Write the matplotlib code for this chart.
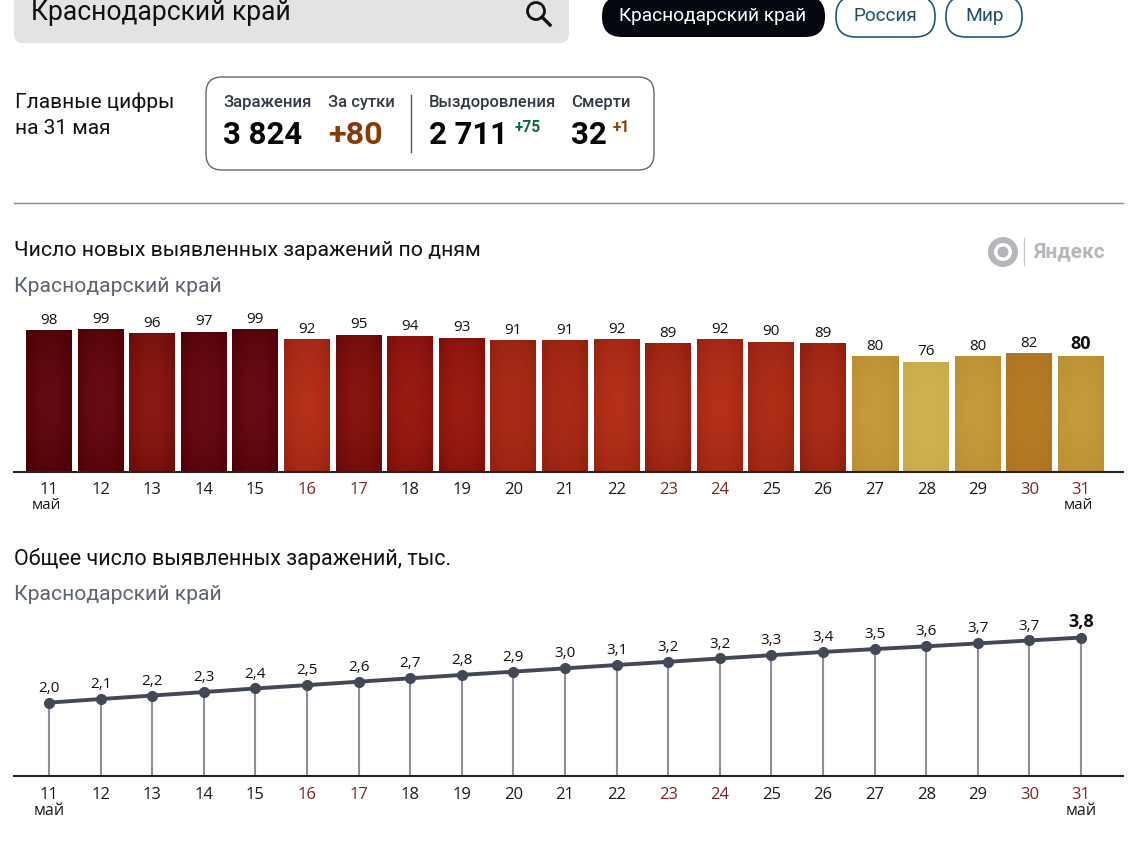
#!/usr/bin/env python3
# Сводка по Краснодарскому краю: карточка с цифрами и два графика.
import matplotlib
matplotlib.use("Agg")
import matplotlib.pyplot as plt
from matplotlib.colors import to_rgb
from matplotlib.patches import Circle, FancyBboxPatch
import numpy as np

W, H = 1140, 843
plt.rcParams["font.family"] = ["Open Sans", "DejaVu Sans"]

days = [11, 12, 13, 14, 15, 16, 17, 18, 19, 20, 21, 22, 23, 24, 25, 26, 27, 28, 29, 30, 31]
new_cases = [98, 99, 96, 97, 99, 92, 95, 94, 93, 91, 91, 92, 89, 92, 90, 89, 80, 76, 80, 82, 80]
total_cases = [2.027, 2.126, 2.222, 2.319, 2.418, 2.510, 2.605, 2.699, 2.792, 2.883, 2.974,
               3.066, 3.155, 3.247, 3.337, 3.426, 3.506, 3.582, 3.662, 3.744, 3.824]
weekend_days = [16, 17, 23, 24, 30, 31]

# цвет центра и края столбца для каждого значения
bar_colors = {
    99: ("#680b13", "#4c0005"), 98: ("#620a11", "#470004"), 97: ("#680b13", "#500007"),
    96: ("#8a1a12", "#690b09"), 95: ("#86150f", "#660908"), 94: ("#9a1b12", "#7c0e0a"),
    93: ("#9c1c12", "#7e0e0a"), 92: ("#b4311a", "#9a2211"), 91: ("#aa2b16", "#922010"),
    90: ("#ae2e17", "#962210"), 89: ("#ac2e18", "#8e1e0e"), 82: ("#b67c26", "#ad7522"),
    80: ("#c49a3a", "#b98f32"), 76: ("#d0b252", "#c8aa4a"),
}

fig = plt.figure(figsize=(W / 100, H / 100), dpi=100)
page = fig.add_axes([0, 0, 1, 1])
page.set_xlim(0, W); page.set_ylim(H, 0); page.axis("off")


def px_axes(left, top, right, bottom, pad):
    ax = fig.add_axes([left / W, 1 - bottom / H, (right - left) / W, (bottom - top) / H])
    ax.patch.set_alpha(0)
    for s in ["top", "left", "right"]:
        ax.spines[s].set_visible(False)
    ax.spines["bottom"].set_color("#222222")
    ax.spines["bottom"].set_linewidth(1.5)
    ax.set_yticks([])
    ax.set_xticks(range(len(days)))
    ax.set_xticklabels(days)
    ax.tick_params(axis="x", length=0, labelsize=12, pad=pad)
    for lab, d in zip(ax.get_xticklabels(), days):
        lab.set_color("#7a2626" if d in weekend_days else "#1a1a1a")
    return ax


def rounded(x0, y0, x1, y1, r, **kw):
    page.add_patch(FancyBboxPatch((x0 + r, y0 + r), x1 - x0 - 2 * r, y1 - y0 - 2 * r,
                                  boxstyle=f"round,pad={r},rounding_size={r}", **kw))


def label(x, y, s, size, color="#111111", family=None, weight="normal", ha="left"):
    page.text(x, y, s, fontsize=size, color=color, family=family, weight=weight,
              ha=ha, va="center")


HEAD = ["Roboto", "DejaVu Sans"]

# --- шапка: поиск и переключатели ---
rounded(14, -20, 569, 43, 9, fc="#e3e3e3", ec="none")
label(31, 13, "Краснодарский край", 19.1, family=HEAD)
page.add_patch(Circle((536, 11), 8.5, fc="none", ec="#111111", lw=2))
page.plot([542, 550], [17, 25], color="#111111", lw=2.4)
rounded(602, -4, 825, 37, 20, fc="#05070f", ec="none")
label(713, 16, "Краснодарский край", 13.8, color="white", family=HEAD, ha="center")
rounded(836, -4, 935, 37, 20, fc="white", ec="#1c5a7a", lw=1.2)
label(885.5, 16, "Россия", 13.6, color="#1c4f6e", family=HEAD, ha="center")
rounded(946, -4, 1022, 37, 20, fc="white", ec="#1c5a7a", lw=1.2)
label(984.5, 16, "Мир", 13.8, color="#1c4f6e", family=HEAD, ha="center")

# --- главные цифры ---
label(15, 102, "Главные цифры", 15, family=HEAD)
label(15, 129, "на 31 мая", 15, family=HEAD)
rounded(206, 77, 654, 170, 16, fc="white", ec="#666666", lw=1)
page.plot([411, 411], [95, 152], color="#555555", lw=1)
for x, s in [(223, "Заражения"), (328, "За сутки"), (429, "Выздоровления"), (571, "Смерти")]:
    label(x, 102, s, 12, color="#333947", family=HEAD, weight="medium")
label(223, 135, "3 824", 22.4, family=HEAD, weight="bold", color="#050505")
label(328, 135, "+80", 23.2, family=HEAD, weight="bold", color="#8a3a08")
label(429, 135, "2 711", 22.4, family=HEAD, weight="bold", color="#050505")
label(571, 135, "32", 22.4, family=HEAD, weight="bold", color="#050505")
label(515, 127, "+75", 11.2, family=HEAD, weight="bold", color="#0f6b3c")
label(613, 127, "+1", 11.2, family=HEAD, weight="bold", color="#8a3a08")
page.plot([14, 1123], [203, 203], color="#8c8c8c", lw=1)

# --- логотип ---
page.add_patch(Circle((1003, 252), 15, fc="#b4b6bb", ec="none"))
page.add_patch(Circle((1003, 252), 9, fc="white", ec="none"))
page.add_patch(Circle((1003, 252), 5.5, fc="#b4b6bb", ec="none"))
page.plot([1024, 1024], [238, 265], color="#c4c6ca", lw=1)
label(1033, 252, "Яндекс", 15, color="#b4b6bb", family=HEAD, weight="bold")

# --- новые заражения ---
label(14, 251, "Число новых выявленных заражений по дням", 15.35, family=HEAD)
label(14, 286, "Краснодарский край", 15.2, color="#5c6472", family=HEAD)
x = np.arange(len(days))
xlim = ((14 - 49) / 51.6, 20 + (1123 - 1081) / 51.6)

ax1 = px_axes(14, 300, 1123, 471.5, 7.2)
bars = ax1.bar(x, new_cases, width=46 / 51.6, fc="none", ec="#00000000", zorder=3)
v, u = np.mgrid[-1:1:80j, -1:1:40j]
r = (np.sqrt(u ** 2 + v ** 2) / np.sqrt(2))[..., None] ** 1.8
for b, val in zip(bars, new_cases):
    c0, c1 = [np.array(to_rgb(c)) for c in bar_colors[val]]
    ax1.imshow(c0 + (c1 - c0) * r, aspect="auto", zorder=2,
               extent=[b.get_x(), b.get_x() + b.get_width(), 0, b.get_height()])
for i, val in enumerate(new_cases):
    last = i == len(days) - 1
    ax1.annotate(str(val), (i, val), textcoords="offset points", xytext=(0, 2.6 if last else 2.4),
                 ha="center", va="bottom", color="#111111",
                 fontsize=13 if last else 11, weight="bold" if last else "normal")
ax1.set_xlim(xlim); ax1.set_ylim(0, 171.5 / 1.43)
ax1.text(-0.04, -0.197, "май", transform=ax1.get_xaxis_transform(), ha="center", va="center",
         fontsize=11, color="#1a1a1a")
ax1.text(20 - 0.04, -0.197, "май", transform=ax1.get_xaxis_transform(), ha="center", va="center",
         fontsize=11, color="#1a1a1a")

# --- общее число ---
label(14, 559, "Общее число выявленных заражений, тыс.", 15.5, family=HEAD)
label(14, 594, "Краснодарский край", 15.2, color="#5c6472", family=HEAD)

ax2 = px_axes(14, 610, 1123, 776, 8.2)
ax2.vlines(x, 0, total_cases, color="#8e9096", lw=1.5, zorder=1)
ax2.plot(x, total_cases, "o-", color="#434858", lw=2.8, ms=7, zorder=2)
for i, val in enumerate(total_cases):
    last = i == len(days) - 1
    ax2.annotate(f"{val:.1f}".replace(".", ","), (i, val), textcoords="offset points",
                 xytext=(0, 5), ha="center", va="bottom", color="#111111",
                 fontsize=13 if last else 11, weight="bold" if last else "normal")
ax2.set_xlim(xlim); ax2.set_ylim(0, 166 / 36.2)
ax2.text(0, -0.21, "май", transform=ax2.get_xaxis_transform(), ha="center", va="center",
         fontsize=11.6, color="#1a1a1a")
ax2.text(20, -0.21, "май", transform=ax2.get_xaxis_transform(), ha="center", va="center",
         fontsize=11.6, color="#1a1a1a")

fig.savefig("out.png", dpi=100)
